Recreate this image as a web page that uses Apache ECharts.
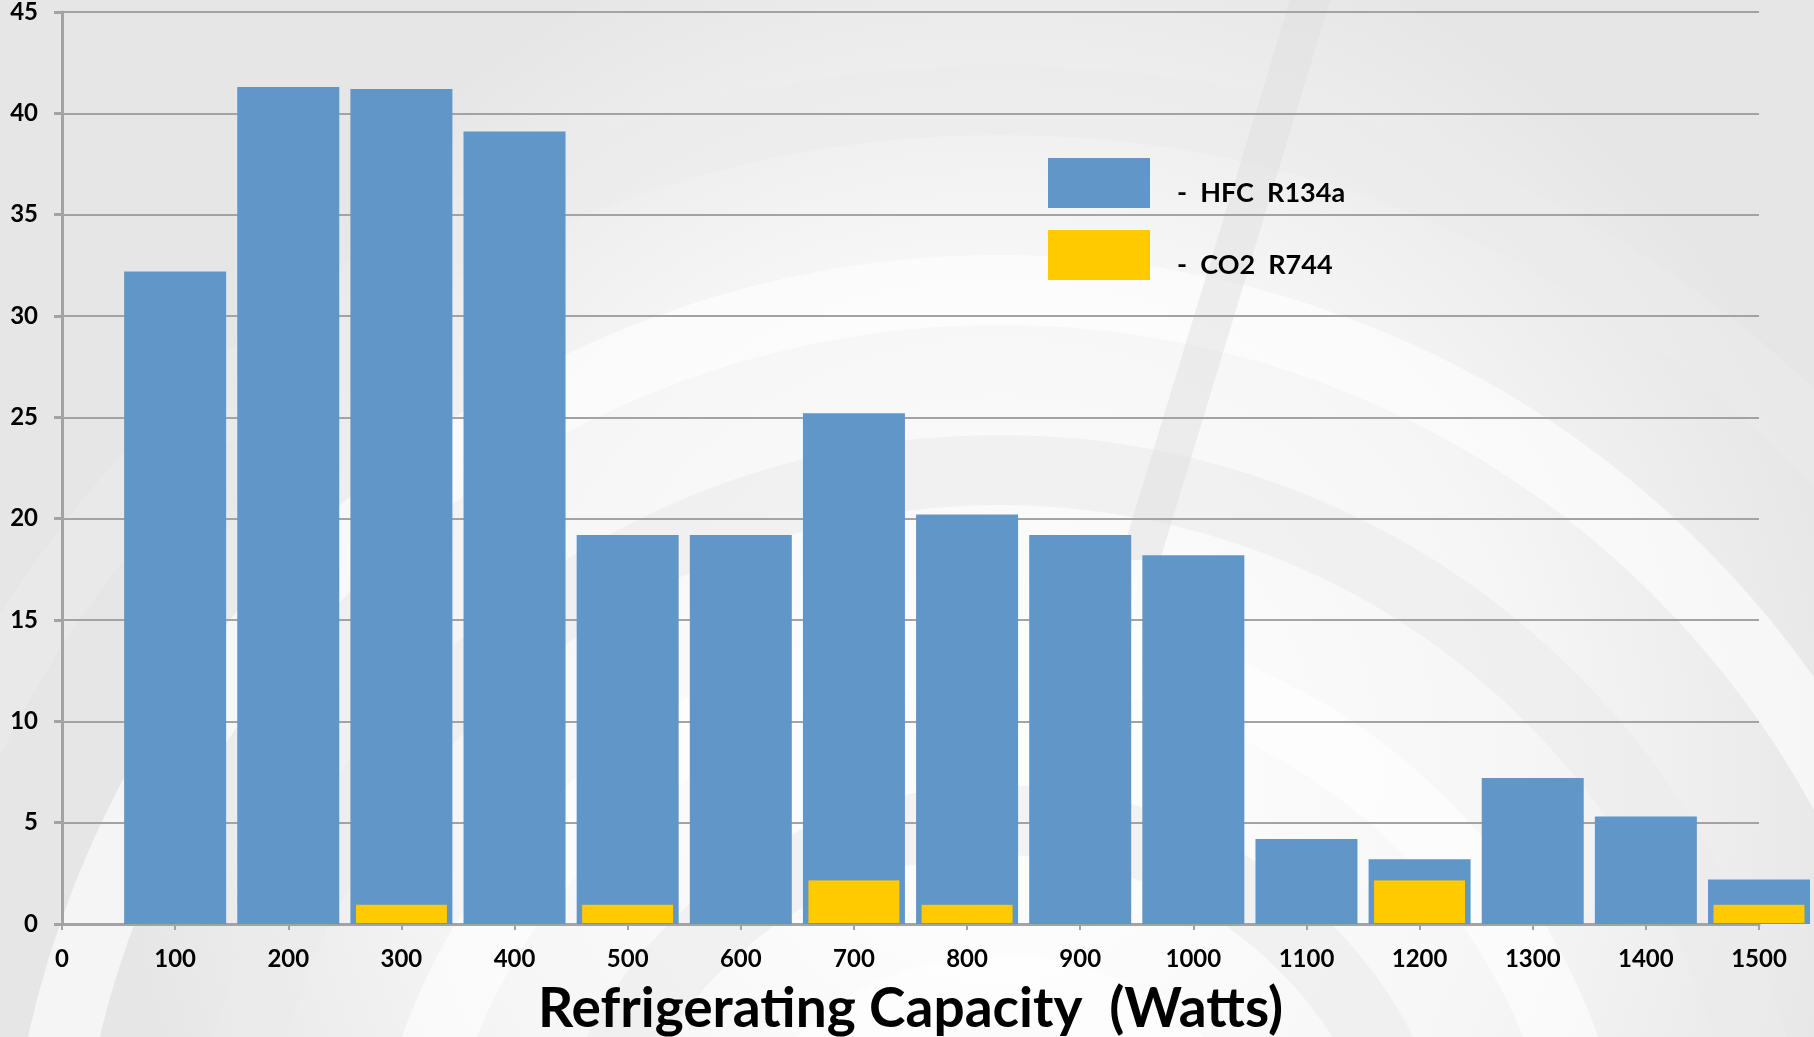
<html>
<head>
    <meta charset="utf-8">
    <title></title>
    <script src="https://cdn.jsdelivr.net/npm/echarts@6/dist/echarts.min.js" type="text/javascript"></script>
    <style>
        html, body { margin:0; padding:0; }
    </style>
</head>
<body>
    <div id="barDiv" style="width:1814px;height:1037px;"></div>
</body>
<script type="text/javascript" charset="utf-8">

        // capacity classes (W)
        var capacity = [100, 200, 300, 400, 500, 600, 700, 800, 900, 1000, 1100, 1200, 1300, 1400, 1500];
        var hfcR134a = [32.2, 41.3, 41.2, 39.1, 19.2, 19.2, 25.2, 20.2, 19.2, 18.2, 4.2, 3.2, 7.2, 5.3, 2.2];
        // CO2 only where a yellow bar exists
        var co2Capacity = [300, 500, 700, 800, 1200, 1500];
        var co2R744 = [1.0, 1.0, 2.2, 1.0, 2.2, 1.0];
        var yTicks = [0, 45, 5];

        var blue = '#6096c8';
        var yellow = '#ffca00';
        var grey = '#a3a3a3';
        var font = 'Lato, "Open Sans", sans-serif';

        function pairs(xs, ys){
            var out = [];
            for(var i=0;i<xs.length;i++){
                out.push([xs[i], ys[i]]);
            }
            return out;
        }

        // some soft rings for the photo-like background
        function rings(){
            var arr = [];
            var radii = [260, 430, 600, 780, 960, 1150];
            for(var i=0;i<radii.length;i++){
                arr.push({
                    type:'circle', silent:true, z:-10,
                    shape:{cx:1000, cy:1250, r:radii[i]},
                    style:{fill:null, stroke:(i%2==0?'#ffffff':'#ebebeb'), lineWidth:70, opacity:0.6}
                });
            }
            arr.push({
                type:'polygon', silent:true, z:-9,
                shape:{points:[[1290,0],[1330,0],[1160,560],[1120,560]]},
                style:{fill:'#e0e0e0', opacity:0.5}
            });
            return arr;
        }

        var barChart = echarts.init(document.getElementById("barDiv"));
        var option = {
            animation:false,
            backgroundColor:{
                type:'radial', x:0.55, y:0.75, r:0.85,
                colorStops:[{offset:0, color:'#ffffff'},{offset:0.6, color:'#f6f6f6'},{offset:1, color:'#e6e6e6'}]
            },
            graphic:rings(),
            grid:{left:62, right:55, top:12, bottom:113, containLabel:false, outerBoundsMode:'none'},
            legend:{
                left:1043, top:153, orient:'vertical',
                itemWidth:102, itemHeight:50, itemGap:22,
                icon:'rect',
                data:['HFC  R134a', 'CO2  R744'],
                formatter:function(name){ return '{t|-  ' + name + '}'; },
                itemStyle:{borderWidth:0},
                textStyle:{
                    fontFamily:font, fontWeight:'bold', fontSize:27, color:'#000',
                    rich:{t:{fontFamily:font, fontWeight:'bold', fontSize:27, color:'#000', padding:[20,0,0,22]}}
                }
            },
            xAxis:[{
                type:'value', min:0, max:1500, interval:100,
                name:'Refrigerating Capacity  (Watts)', nameLocation:'middle', nameGap:58,
                nameTextStyle:{fontFamily:font, fontWeight:'bold', fontSize:55, color:'#000'},
                axisLine:{show:true, onZero:true, lineStyle:{color:grey, width:3}},
                axisTick:{show:true, length:6, lineStyle:{color:grey, width:2}},
                axisLabel:{fontFamily:font, fontWeight:'bold', fontSize:24, color:'#000', margin:23,
                    showMinLabel:true, showMaxLabel:true,
                    formatter:function(v){ return String(v); }},
                splitLine:{show:false}
            },{
                type:'value', min:0, max:1500, show:false
            }],
            yAxis:{
                type:'value', min:yTicks[0], max:yTicks[1], interval:yTicks[2],
                axisLine:{show:true, lineStyle:{color:grey, width:3}},
                axisTick:{show:true, length:8, lineStyle:{color:grey, width:3}},
                axisLabel:{fontFamily:font, fontWeight:'bold', fontSize:24, color:'#000', margin:24},
                splitLine:{show:true, lineStyle:{color:grey, width:2}}
            },
            series:[{
                name:'HFC  R134a', type:'bar', xAxisIndex:0,
                barWidth:102, clip:false, z:3,
                itemStyle:{color:blue},
                data:pairs(capacity, hfcR134a)
            },{
                name:'CO2  R744', type:'bar', xAxisIndex:1,
                barWidth:93, clip:false, z:4,
                itemStyle:{color:yellow, borderColor:blue, borderWidth:1},
                data:pairs(co2Capacity, co2R744)
            }]
        };
        barChart.setOption(option);

</script>
</html>
